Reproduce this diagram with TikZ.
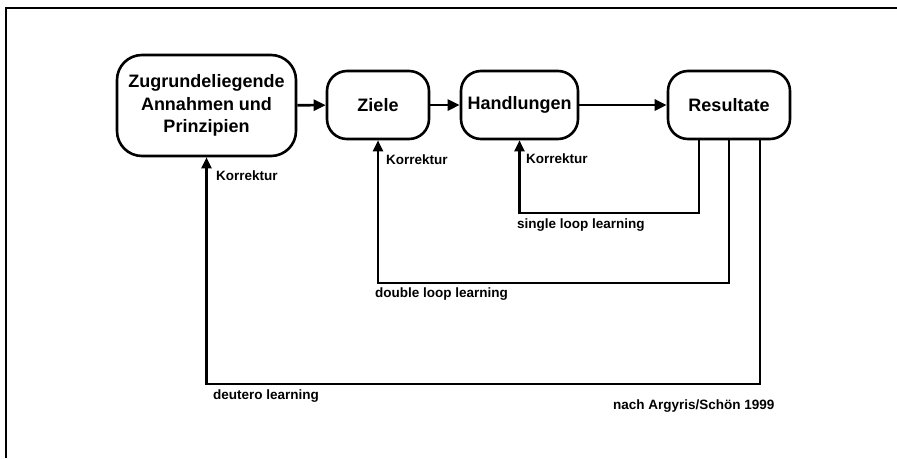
\documentclass[tikz,border=0pt]{standalone}
\usepackage{fontspec}
\setmainfont{Liberation Sans}
\usetikzlibrary{arrows.meta}
\begin{document}
\begin{tikzpicture}[x=1pt,y=-1pt,
  stage/.style={draw, line width=2.6pt, rounded corners=20pt, align=center,
    inner sep=0pt, minimum height=68pt,
    font=\bfseries\fontsize{18}{22.5}\selectfont},
  flow/.style={line width=2.6pt, -{Triangle[length=12pt,width=11pt]}},
  back/.style={line width=2.3pt, -{Triangle[length=11pt,width=10pt]}},
  lbl/.style={anchor=west, inner sep=0pt, font=\bfseries\fontsize{13.5}{16}\selectfont}]
  \useasboundingbox (0,0) rectangle (897,458);
  \fill[white] (0,0) rectangle (897,458);
  % partial frame
  \draw[line width=2.6pt] (6,458) -- (6,8) -- (897,8);

  % stages
  \node[stage, minimum width=179pt, minimum height=101pt, rounded corners=25pt]
    (pr) at (206.5,105.5) {Zugrundeliegende\\Annahmen und\\Prinzipien};
  \node[stage, minimum width=102pt] (ziele) at (378,105) {Ziele};
  \node[stage, minimum width=117pt] (hand) at (519.5,105) {Handlungen};
  \node[stage, minimum width=122pt] (res) at (729,105) {Resultate};

  % main flow
  \draw[flow] (pr) -- (ziele);
  \draw[flow] (ziele) -- (hand);
  \draw[flow] (hand) -- (res);

  % feedback loops
  \coordinate (sl) at (519.5,213);
  \coordinate (dl) at (378,283);
  \coordinate (dt) at (206.5,384);
  \draw[back] ([xshift=-30pt]res.south) |- (sl) -- (hand.south);
  \draw[back] (res.south) |- (dl) -- (ziele.south);
  \draw[back] ([xshift=31pt]res.south) |- (dt) -- (pr.south);

  % labels
  \node[lbl] (k1) at (216,176) {Korrektur};
  \node[lbl] (k2) at (386,160) {Korrektur};
  \node[lbl] (k3) at (526,159) {Korrektur};
  \node[lbl] (single) at (517,225) {single loop learning};
  \node[lbl] (double) at (375,294) {double loop learning};
  \node[lbl] (deutero) at (213,396) {deutero learning};
  \node[lbl] (src) at (613,406) {nach Argyris/Schön 1999};
\end{tikzpicture}
\end{document}
